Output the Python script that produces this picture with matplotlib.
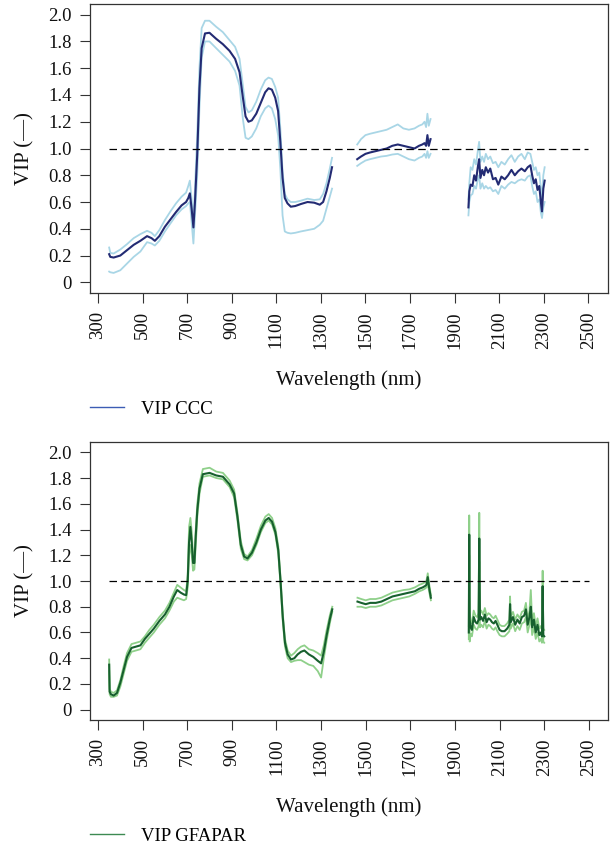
import matplotlib
matplotlib.use("Agg")
import matplotlib.pyplot as plt
from matplotlib.lines import Line2D
import numpy as np

plt.rcParams['font.family'] = ['Liberation Serif', 'DejaVu Serif']

# ---- datos ----
# panel superior (CCC), tres tramos espectrales
wl_ccc_1 = [350, 355, 370, 400, 430, 460, 490, 520, 540, 555, 575, 600, 625, 650, 675, 695, 705, 712,
            720, 728, 735, 745, 755, 765, 780, 800, 830, 860, 890, 915, 935, 950, 962, 975, 990, 1010,
            1030, 1050, 1065, 1080, 1095, 1108, 1118, 1128, 1138, 1150, 1165, 1185, 1210, 1240, 1270,
            1295, 1310, 1325, 1340, 1350]
ccc_mid_1 = [0.21, 0.19, 0.185, 0.20, 0.24, 0.28, 0.31, 0.345, 0.33, 0.31, 0.345, 0.415, 0.47, 0.525,
             0.575, 0.60, 0.63, 0.665, 0.55, 0.41, 0.60, 0.95, 1.45, 1.75, 1.86, 1.865, 1.82, 1.78, 1.73,
             1.67, 1.57, 1.38, 1.24, 1.20, 1.21, 1.26, 1.34, 1.42, 1.45, 1.44, 1.38, 1.28, 1.05, 0.78,
             0.63, 0.59, 0.565, 0.57, 0.585, 0.60, 0.595, 0.58, 0.60, 0.68, 0.78, 0.86]
ccc_up_1 = [0.26, 0.22, 0.215, 0.245, 0.285, 0.33, 0.36, 0.385, 0.37, 0.345, 0.39, 0.465, 0.53, 0.59,
            0.64, 0.67, 0.72, 0.76, 0.62, 0.47, 0.70, 1.10, 1.60, 1.90, 1.955, 1.955, 1.91, 1.87, 1.81,
            1.76, 1.67, 1.47, 1.31, 1.27, 1.285, 1.35, 1.44, 1.51, 1.53, 1.52, 1.46, 1.38, 1.15, 0.83,
            0.66, 0.62, 0.60, 0.60, 0.61, 0.625, 0.615, 0.62, 0.66, 0.74, 0.85, 0.93]
ccc_lo_1 = [0.08, 0.075, 0.07, 0.09, 0.14, 0.19, 0.23, 0.30, 0.29, 0.275, 0.31, 0.38, 0.44, 0.50,
            0.545, 0.57, 0.59, 0.60, 0.45, 0.29, 0.50, 0.80, 1.30, 1.68, 1.80, 1.80, 1.75, 1.70, 1.65,
            1.58, 1.47, 1.22, 1.08, 1.07, 1.09, 1.15, 1.24, 1.30, 1.32, 1.30, 1.22, 1.10, 0.85, 0.50,
            0.38, 0.37, 0.365, 0.37, 0.38, 0.39, 0.40, 0.43, 0.46, 0.55, 0.64, 0.70]

wl_ccc_2 = [1463, 1480, 1500, 1520, 1545, 1570, 1595, 1620, 1645, 1670, 1695, 1720, 1740, 1755, 1765,
            1772, 1778, 1784, 1792]
ccc_mid_2 = [0.92, 0.94, 0.96, 0.97, 0.98, 0.99, 1.00, 1.02, 1.03, 1.02, 1.01, 1.00, 1.02, 1.03, 1.04,
             1.02, 1.10, 1.02, 1.07]
ccc_up_2 = [1.03, 1.07, 1.10, 1.11, 1.12, 1.13, 1.14, 1.16, 1.18, 1.15, 1.14, 1.15, 1.17, 1.18, 1.20,
            1.16, 1.26, 1.17, 1.22]
ccc_lo_2 = [0.87, 0.89, 0.91, 0.92, 0.93, 0.94, 0.945, 0.955, 0.96, 0.94, 0.92, 0.91, 0.93, 0.94, 0.96,
            0.93, 0.98, 0.93, 0.96]

wl_ccc_3 = [1962, 1966, 1972, 1980, 1988, 1996, 2004, 2010, 2016, 2024, 2032, 2040, 2050, 2060, 2072,
            2084, 2096, 2110, 2125, 2140, 2155, 2170, 2185, 2200, 2215, 2228, 2240, 2248, 2256, 2264,
            2272, 2280, 2287, 2292, 2298, 2304]
ccc_mid_3 = [0.56, 0.68, 0.73, 0.72, 0.80, 0.76, 0.86, 0.92, 0.78, 0.84, 0.80, 0.86, 0.82, 0.85, 0.77,
             0.78, 0.73, 0.79, 0.77, 0.80, 0.84, 0.80, 0.83, 0.85, 0.83, 0.86, 0.875, 0.80, 0.74, 0.77,
             0.69, 0.72, 0.60, 0.53, 0.70, 0.76]
ccc_up_3 = [0.62, 0.74, 0.86, 0.84, 0.92, 0.88, 0.98, 1.05, 0.90, 0.94, 0.90, 0.96, 0.92, 0.94, 0.89,
            0.90, 0.86, 0.90, 0.88, 0.92, 0.95, 0.90, 0.94, 0.96, 0.92, 0.97, 0.96, 0.90, 0.84, 0.86,
            0.80, 0.82, 0.70, 0.62, 0.80, 0.86]
ccc_lo_3 = [0.50, 0.60, 0.65, 0.66, 0.72, 0.70, 0.77, 0.80, 0.70, 0.74, 0.70, 0.72, 0.70, 0.71, 0.68,
            0.69, 0.66, 0.72, 0.70, 0.73, 0.75, 0.74, 0.76, 0.77, 0.76, 0.79, 0.80, 0.72, 0.66, 0.68,
            0.60, 0.62, 0.52, 0.48, 0.56, 0.60]

# panel inferior (GFAPAR)
wl_gf_1 = [350, 352, 358, 370, 385, 400, 415, 430, 450, 470, 490, 510, 530, 550, 575, 600, 620, 640,
           655, 670, 685, 695, 702, 708, 714, 720, 726, 732, 738, 745, 755, 770, 800, 830, 860, 890,
           910, 925, 940, 955, 970, 990, 1010, 1030, 1050, 1065, 1080, 1095, 1108, 1118, 1128, 1138,
           1150, 1165, 1180, 1195, 1210, 1225, 1245, 1265, 1285, 1300, 1312, 1325, 1340, 1350]
gf_mid_1 = [0.35, 0.14, 0.12, 0.11, 0.13, 0.21, 0.31, 0.41, 0.48, 0.49, 0.50, 0.55, 0.59, 0.63, 0.69,
            0.74, 0.80, 0.88, 0.93, 0.91, 0.895, 0.89, 1.00, 1.30, 1.42, 1.30, 1.14, 1.14, 1.35, 1.55,
            1.72, 1.83, 1.84, 1.82, 1.81, 1.75, 1.68, 1.50, 1.28, 1.19, 1.175, 1.22, 1.30, 1.40, 1.47,
            1.49, 1.46, 1.38, 1.24, 1.00, 0.72, 0.52, 0.43, 0.39, 0.40, 0.43, 0.45, 0.46, 0.43, 0.41,
            0.38, 0.36, 0.45, 0.58, 0.71, 0.78]
gf_up_1 = [0.39, 0.16, 0.14, 0.13, 0.15, 0.23, 0.34, 0.44, 0.51, 0.52, 0.53, 0.57, 0.62, 0.66, 0.72,
           0.77, 0.83, 0.91, 0.97, 0.95, 0.93, 0.92, 1.05, 1.42, 1.49, 1.38, 1.20, 1.18, 1.40, 1.60,
           1.76, 1.87, 1.88, 1.85, 1.84, 1.78, 1.71, 1.53, 1.31, 1.21, 1.19, 1.24, 1.33, 1.43, 1.50,
           1.52, 1.49, 1.41, 1.27, 1.03, 0.75, 0.55, 0.46, 0.42, 0.44, 0.47, 0.49, 0.50, 0.47, 0.46,
           0.44, 0.42, 0.50, 0.62, 0.74, 0.80]
gf_lo_1 = [0.30, 0.12, 0.10, 0.10, 0.11, 0.18, 0.28, 0.38, 0.45, 0.46, 0.47, 0.52, 0.56, 0.60, 0.66,
           0.71, 0.77, 0.84, 0.87, 0.86, 0.85, 0.86, 0.95, 1.20, 1.28, 1.20, 1.08, 1.09, 1.28, 1.50,
           1.68, 1.81, 1.82, 1.80, 1.79, 1.73, 1.65, 1.47, 1.25, 1.17, 1.16, 1.20, 1.28, 1.38, 1.45,
           1.47, 1.44, 1.36, 1.21, 0.97, 0.69, 0.49, 0.40, 0.37, 0.38, 0.385, 0.385, 0.37, 0.35, 0.34,
           0.30, 0.25, 0.40, 0.54, 0.68, 0.76]

wl_gf_2 = [1463, 1480, 1500, 1520, 1545, 1570, 1595, 1620, 1645, 1670, 1695, 1720, 1740, 1755, 1765,
           1772, 1778, 1784, 1792]
gf_mid_2 = [0.84, 0.83, 0.82, 0.83, 0.83, 0.84, 0.86, 0.88, 0.89, 0.90, 0.91, 0.92, 0.94, 0.95, 0.96,
            0.97, 1.03, 0.95, 0.87]
gf_up_2 = [0.87, 0.86, 0.85, 0.86, 0.86, 0.87, 0.89, 0.91, 0.92, 0.93, 0.935, 0.95, 0.97, 0.98, 0.99,
           1.00, 1.06, 0.98, 0.89]
gf_lo_2 = [0.80, 0.80, 0.79, 0.80, 0.80, 0.81, 0.83, 0.85, 0.86, 0.87, 0.88, 0.90, 0.92, 0.93, 0.94,
           0.95, 0.98, 0.92, 0.85]

wl_gf_3 = [1962, 1964, 1966, 1970, 1976, 1984, 1992, 1999, 2006, 2009, 2012, 2018, 2026, 2034, 2042,
           2050, 2058, 2066, 2074, 2082, 2090, 2100, 2110, 2122, 2134, 2144, 2147, 2150, 2160, 2170,
           2180, 2190, 2200, 2210, 2218, 2226, 2234, 2240, 2246, 2254, 2262, 2270, 2278, 2285, 2290,
           2293, 2296, 2300]
gf_mid_3 = [0.60, 1.36, 0.70, 0.64, 0.62, 0.72, 0.68, 0.67, 0.70, 1.33, 0.70, 0.72, 0.69, 0.74, 0.68,
            0.71, 0.70, 0.68, 0.67, 0.69, 0.66, 0.62, 0.61, 0.61, 0.63, 0.66, 0.82, 0.68, 0.72, 0.66,
            0.70, 0.67, 0.72, 0.73, 0.78, 0.66, 0.72, 0.80, 0.64, 0.70, 0.60, 0.66, 0.58, 0.60, 0.57,
            0.96, 0.58, 0.57]
gf_up_3 = [0.65, 1.51, 0.76, 0.69, 0.67, 0.77, 0.73, 0.72, 0.75, 1.53, 0.75, 0.77, 0.74, 0.79, 0.73,
           0.75, 0.74, 0.72, 0.71, 0.73, 0.70, 0.66, 0.65, 0.65, 0.67, 0.70, 0.88, 0.72, 0.76, 0.70,
           0.74, 0.71, 0.76, 0.77, 0.83, 0.70, 0.77, 0.93, 0.69, 0.75, 0.65, 0.71, 0.63, 0.65, 0.62,
           1.08, 0.63, 0.62]
gf_lo_3 = [0.55, 1.20, 0.53, 0.59, 0.57, 0.66, 0.63, 0.62, 0.65, 1.15, 0.64, 0.66, 0.64, 0.69, 0.63,
           0.66, 0.65, 0.63, 0.62, 0.64, 0.61, 0.58, 0.57, 0.57, 0.59, 0.61, 0.76, 0.63, 0.67, 0.61,
           0.65, 0.62, 0.67, 0.68, 0.72, 0.60, 0.66, 0.72, 0.58, 0.64, 0.55, 0.60, 0.53, 0.55, 0.52,
           0.86, 0.53, 0.52]

x_ticks = [300, 500, 700, 900, 1100, 1300, 1500, 1700, 1900, 2100, 2300, 2500]
y_ticks = [0, 0.2, 0.4, 0.6, 0.8, 1.0, 1.2, 1.4, 1.6, 1.8, 2.0]
y_tick_labels = ['0', '0.2', '0.4', '0.6', '0.8', '1.0', '1.2', '1.4', '1.6', '1.8', '2.0']


def une_tramos(*tramos):
    # junta los tramos con un nan en medio para cortar la linea
    salida = []
    for i, t in enumerate(tramos):
        if i > 0:
            salida.append(np.nan)
        salida.extend(t)
    return np.array(salida, dtype=float)


paneles = [
    dict(wl=une_tramos(wl_ccc_1, wl_ccc_2, wl_ccc_3),
         mid=une_tramos(ccc_mid_1, ccc_mid_2, ccc_mid_3),
         up=une_tramos(ccc_up_1, ccc_up_2, ccc_up_3),
         lo=une_tramos(ccc_lo_1, ccc_lo_2, ccc_lo_3),
         c_mid='#232b73', c_light='#a9d6e6', c_leg='#3c5cb4', label='VIP CCC',
         rect=[90 / 610, 1 - 293 / 848, 517.5 / 610, 289 / 848]),
    dict(wl=une_tramos(wl_gf_1, wl_gf_2, wl_gf_3),
         mid=une_tramos(gf_mid_1, gf_mid_2, gf_mid_3),
         up=une_tramos(gf_up_1, gf_up_2, gf_up_3),
         lo=une_tramos(gf_lo_1, gf_lo_2, gf_lo_3),
         c_mid='#17602e', c_light='#8fd08a', c_leg='#3d8a52', label='VIP GFAPAR',
         rect=[90 / 610, 1 - 720 / 848, 518 / 610, 278 / 848]),
]

fig = plt.figure(figsize=(6.1, 8.48), dpi=100)

for p in paneles:
    ax = fig.add_axes(p['rect'])
    ax.plot(p['wl'], p['up'], color=p['c_light'], lw=1.3, zorder=2)
    ax.plot(p['wl'], p['lo'], color=p['c_light'], lw=1.3, zorder=2)
    ax.plot(p['wl'], p['mid'], color=p['c_mid'], lw=1.5, zorder=3)
    ax.hlines(1.0, 350, 2500, colors='black', linestyles=(0, (6, 3.5)), lw=0.9, zorder=4)

    ax.set_xlim(264, 2586)
    ax.set_ylim(-0.08, 2.08)
    ax.set_xticks(x_ticks)
    ax.set_xticklabels([str(v) for v in x_ticks], rotation=90)
    ax.set_yticks(y_ticks)
    ax.set_yticklabels(y_tick_labels)
    ax.tick_params(axis='both', direction='out', length=7.5, width=0.8, color='#333333',
                   labelsize=13.5, labelcolor='#111111', pad=5.5)
    for s in ax.spines.values():
        s.set_color('#333333')
        s.set_linewidth(0.9)

    alto = p['rect'][3] * 848
    ax.set_xlabel('Wavelength (nm)', fontsize=15, color='#111111')
    ax.xaxis.set_label_coords(0.5, -87 / alto)
    ax.xaxis.label.set_va('center')
    ax.set_ylabel('VIP (—)', fontsize=15, color='#111111')
    ax.yaxis.set_label_coords(-65 / 517.5, 0.5)
    ax.yaxis.label.set_va('center')

    h = Line2D([], [], color=p['c_leg'], lw=1.0)
    ax.legend([h], [p['label']], loc='center left', bbox_to_anchor=(0, -116 / alto),
              frameon=False, fontsize=13.5, borderpad=0, borderaxespad=0,
              handlelength=1.8, handletextpad=0.9)

plt.savefig('out.png', dpi=100)
